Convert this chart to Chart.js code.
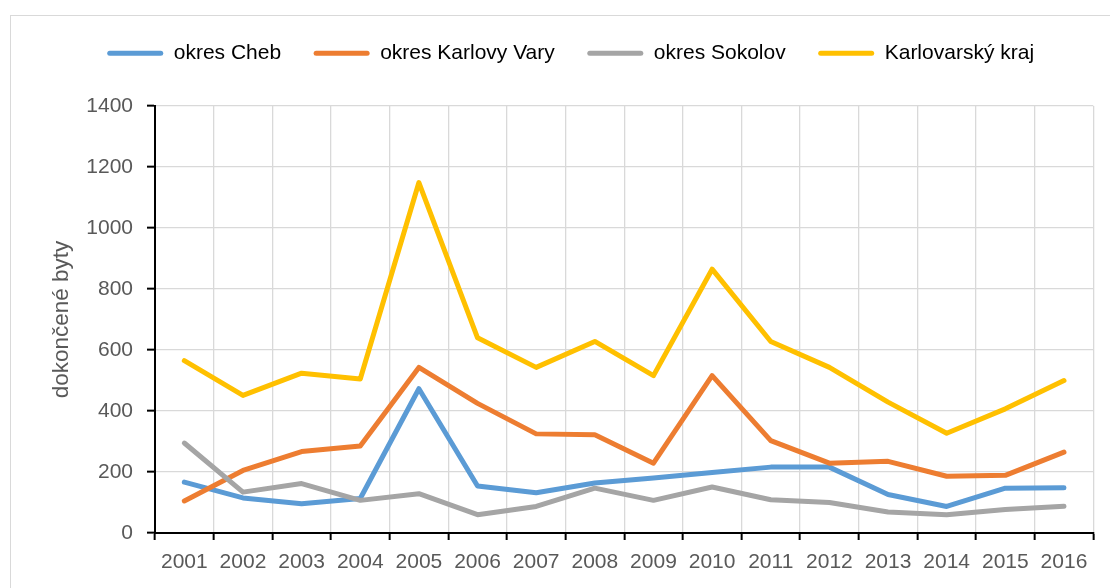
<!DOCTYPE html>
<html>
<head>
<meta charset="utf-8">
<script src="https://cdn.jsdelivr.net/npm/chart.js@4/dist/chart.umd.min.js"></script>
<style>
  html, body { margin: 0; padding: 0; background: #fff; }
  #wrap { position: relative; width: 1110px; height: 588px; overflow: hidden; }
  #frame { position: absolute; left: 10px; top: 15px; width: 1200px; height: 700px; border: 1px solid #d9d9d9; }
  #chart { position: absolute; left: 0; top: 0; }
</style>
</head>
<body>
<div id="wrap">
  <div id="frame"></div>
  <canvas id="chart" width="1110" height="588"></canvas>
</div>
<script>
const years = ["2001", "2002", "2003", "2004", "2005", "2006", "2007", "2008",
               "2009", "2010", "2011", "2012", "2013", "2014", "2015", "2016"];
const seriesNames = ["okres Cheb", "okres Karlovy Vary", "okres Sokolov", "Karlovarský kraj"];
const cheb = [167, 115, 96, 113, 473, 154, 132, 164, 180, 198, 216, 216, 126, 87, 147, 148];
const karlovyVary = [105, 205, 267, 285, 543, 425, 325, 322, 229, 516, 303, 229, 235, 186, 189, 265];
const sokolov = [295, 134, 162, 107, 129, 60, 87, 147, 107, 151, 109, 100, 69, 60, 77, 88];
const kraj = [565, 451, 524, 505, 1149, 640, 543, 628, 516, 865, 628, 543, 429, 327, 407, 500];
const yTitle = "dokončené byty";

const colors = ["#5B9BD5", "#ED7D31", "#A5A5A5", "#FFC000"];
const values = [cheb, karlovyVary, sokolov, kraj];

Chart.defaults.font.family = "'Liberation Sans', Arial, sans-serif";
Chart.defaults.font.size = 21;
Chart.defaults.color = "#595959";

// legend: fixed height (so the plot starts at the right place) and a small sideways shift
const legendFix = {
  id: "legendFix",
  beforeInit(chart) {
    const fit = chart.legend.fit;
    chart.legend.fit = function () {
      fit.call(this);
      this.height = 95.7;
    };
  },
  afterLayout(chart) {
    const dx = 24;
    chart.legend.left += dx;
    chart.legend.right += dx;
  }
};

const datasets = values.map((v, i) => ({
  label: seriesNames[i],
  data: v,
  borderColor: colors[i],
  backgroundColor: colors[i],
  borderWidth: 5,
  borderCapStyle: "round",
  borderJoinStyle: "round",
  pointRadius: 0,
  fill: false,
  tension: 0,
  order: values.length - i
}));

new Chart(document.getElementById("chart"), {
  type: "line",
  data: { labels: years, datasets: datasets },
  options: {
    responsive: false,
    devicePixelRatio: 1,
    animation: false,
    layout: { padding: { top: 10.3, right: 16.7, bottom: 0, left: 0 } },
    plugins: {
      tooltip: { enabled: false },
      legend: {
        position: "top",
        labels: {
          boxWidth: 56,
          boxHeight: 5,
          padding: 32.5,
          color: "#595959",
          generateLabels(chart) {
            return chart.data.datasets.map((ds, i) => ({
              text: ds.label,
              fillStyle: ds.borderColor,
              strokeStyle: ds.borderColor,
              lineWidth: 0,
              borderRadius: 2.5,
              datasetIndex: i,
              hidden: false
            }));
          }
        }
      }
    },
    scales: {
      x: {
        offset: true,
        grid: {
          offset: true,
          color: "#d9d9d9",
          lineWidth: 1.3,
          tickColor: "#000",
          tickWidth: 2,
          tickLength: 7
        },
        border: { color: "#000", width: 2 },
        ticks: { maxRotation: 0, autoSkip: false, padding: 10 },
        afterFit(scale) { scale.height = 55; }
      },
      y: {
        min: 0,
        max: 1400,
        ticks: { stepSize: 200, padding: 14, callback: (v) => String(v) },
        grid: {
          color: "#d9d9d9",
          lineWidth: 1.3,
          tickColor: "#000",
          tickWidth: 2,
          tickLength: 8
        },
        border: { color: "#000", width: 2 },
        title: {
          display: true,
          text: yTitle,
          color: "#595959",
          font: { size: 22.5 },
          padding: { top: 48, bottom: 0 }
        },
        afterFit(scale) { scale.width = 155; }
      }
    }
  },
  plugins: [legendFix]
});
</script>
</body>
</html>
